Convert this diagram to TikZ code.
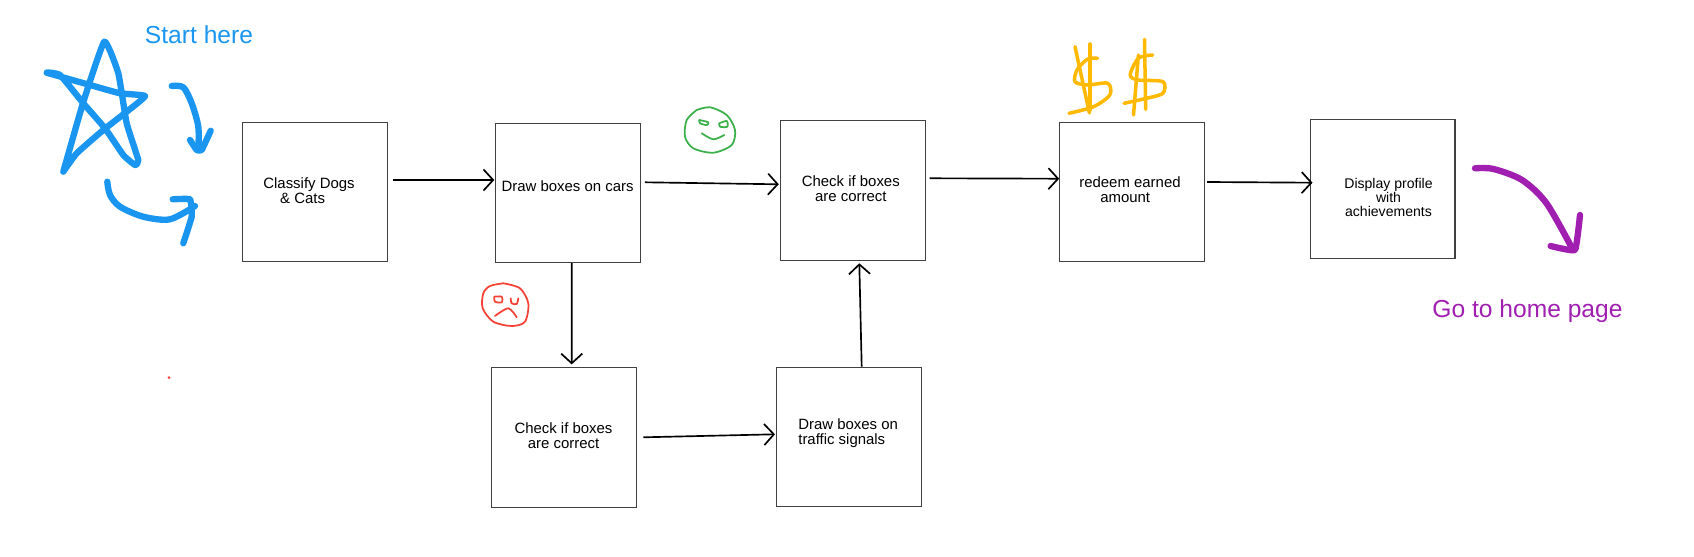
\documentclass[tikz,border=0pt]{standalone}
\usepackage{fontspec}
\setmainfont{Liberation Sans}
\usepackage{xcolor}
\usetikzlibrary{arrows.meta}

\definecolor{inkblue}{HTML}{1A96F0}
\definecolor{inkgreen}{HTML}{3CB04A}
\definecolor{inkred}{HTML}{F44336}
\definecolor{inkgold}{HTML}{FFB900}
\definecolor{inkpurple}{HTML}{A01FB0}

\tikzset{
  stepbox/.style={draw=black!75, line width=.6pt, minimum width=2.9cm, minimum height=2.79cm, inner sep=0pt},
  boxtext/.style={font=\fontsize{8.5}{8.5}\selectfont, inner sep=0pt, align=left},
  flow/.style={line width=.95pt, -{Straight Barb[length=5.5pt,width=12pt,line width=.95pt]}},
  pen/.style={line cap=round, line join=round, smooth, tension=.5},
  facepen/.style={pen, line width=1pt},
  bluepen/.style={pen, inkblue, line width=3.6pt},
  goldpen/.style={pen, inkgold, line width=2pt},
  purplepen/.style={pen, inkpurple, line width=3.6pt}
}

\begin{document}
\begin{tikzpicture}[x=.02cm,y=-.02cm]

\useasboundingbox (0,0) rectangle (1694,557);

\node[stepbox] (classify) at (315,192) {};
\node[stepbox] (cars) at (567.8,192.8) {};
\node[stepbox] (checktop) at (852.6,190.5) {};
\node[stepbox] (redeem) at (1131.8,191.8) {};
\node[stepbox] (profile) at (1382.5,189.2) {};
\node[stepbox] (checklow) at (564,437.7) {};
\node[stepbox] (traffic) at (848.8,437) {};

\node[boxtext, anchor=west] (classifytext) at (263,190.5) {Classify Dogs\\\hspace*{9.6pt}\& Cats};
\node[boxtext, anchor=west] (carstext) at (501.2,186) {Draw boxes on cars};
\node[boxtext, align=center] (checktoptext) at (850.8,189) {Check if boxes\\are correct};
\node[boxtext, anchor=west] (redeemtext) at (1079,190) {redeem earned\\\hspace*{11.9pt}amount};
\node[boxtext, align=center, font=\fontsize{8}{8}\selectfont] (profiletext) at (1388.5,197.5) {Display profile\\with\\achievements};
\node[boxtext, align=center] (checklowtext) at (563.5,435.2) {Check if boxes\\are correct};
\node[boxtext, anchor=west] (traffictext) at (798,433.5) {Draw boxes on\\traffic signals};

\draw[flow] ([shift={(5,-12)}]classify.east) -- ([shift={(-.5,-12.8)}]cars.west);
\draw[flow] ([shift={(4,-10.5)}]cars.east) -- ([shift={(-.8,-6.2)}]checktop.west);
\draw[flow] ([xshift=.08cm]cars.south) -- ([xshift=.154cm,yshift=.06cm]checklow.north);
\draw[flow] ([shift={(6.4,-.4)}]checklow.east) -- ([shift={(-.8,-2.7)}]traffic.west);
\draw[flow] ([xshift=.258cm]traffic.north) -- ([xshift=.134cm,yshift=-.05cm]checktop.south);
\draw[flow] ([shift={(4,-12.2)}]checktop.east) -- ([shift={(.4,-13.1)}]redeem.west);
\draw[flow] ([shift={(2.3,-9.8)}]redeem.east) -- ([shift={(3,-6.5)}]profile.west);

\node[font=\fontsize{14}{14}\selectfont, text=inkblue, inner sep=0pt] (starthere) at (199,34.5) {Start here};
\node[font=\fontsize{14}{14}\selectfont, text=inkpurple, inner sep=0pt] (gohome) at (1527.5,311) {Go to home page};

\draw[bluepen, tension=.25] plot coordinates {(63.3,171.7) (83,103) (104.3,41.7) (118.3,73.3) (126.7,123.3) (138.3,160) (135,165) (123.3,155) (105,128.3) (83.3,103.3) (60,75) (46.7,72.7) (90,85) (120,93.3) (145,96) (126.7,111.7) (103.3,130) (76.7,153.3) (63.3,171.7)};

\draw[bluepen] plot coordinates {(171.7,86) (183.3,87.3) (191.7,103.3) (198.3,126.7) (198.3,150)};
\draw[bluepen, tension=.2] plot coordinates {(190,140) (196.7,150) (201.7,150) (210.7,130.7)};
\draw[bluepen] plot coordinates {(107.3,181.7) (110,195) (120,206.7) (143.3,216.7) (170,219.3) (195,206)};
\draw[bluepen, tension=.2] plot coordinates {(172.7,199.3) (190,199.3) (191.7,216.7) (183.3,243.3)};

\draw[facepen, inkgreen] plot coordinates {(696.7,110) (710,107.3) (726.7,115) (735,130) (731.7,145) (713.3,152.7) (693.3,148.3) (685,136.7) (686.7,120) (696.7,110)};
\draw[facepen, inkgreen] plot coordinates {(699.3,120) (708.3,122.3) (706.7,125) (700,123.3) (699.3,120)};
\draw[facepen, inkgreen] plot coordinates {(719.3,123.3) (726.7,121) (727.3,126.7) (720,126.7) (719.3,123.3)};
\draw[facepen, inkgreen] plot coordinates {(701.7,133.3) (713.3,139.3) (724.3,135)};

\draw[facepen, inkred] plot coordinates {(503.3,283.3) (520,288.3) (528.3,303.3) (525,321.7) (511.7,326) (493.3,321.7) (482.7,308.3) (483.3,293.3) (490,286) (503.3,283.3)};
\draw[facepen, inkred] plot coordinates {(494.3,296.7) (501.7,296.7) (501.7,302.3) (495,301.7) (494.3,296.7)};
\draw[facepen, inkred] plot coordinates {(510.7,298.3) (511.7,303.3) (516.7,304) (518.3,298.3)};
\draw[facepen, inkred] plot coordinates {(495,316) (508.3,308.3) (516.7,317.3)};

\draw[goldpen] plot coordinates {(1097.6,58.3) (1087.3,59.3) (1077,70) (1075,81.7) (1087.3,85) (1107.8,83.3) (1109.8,95) (1093.5,106.7) (1069,113.3)};
\draw[goldpen] plot coordinates {(1075,46.7) (1089.4,113)};
\draw[goldpen] plot coordinates {(1090.2,44) (1090.2,110)};
\draw[goldpen] plot coordinates {(1152.7,55) (1138.4,58.3) (1130.2,75) (1138.4,80) (1162.9,81.7) (1162.9,93.3) (1146.5,98.3) (1124,103.3)};
\draw[goldpen] plot coordinates {(1144.5,39.3) (1145.7,109.3)};
\draw[goldpen] plot coordinates {(1138.4,55) (1133.5,115)};

\draw[purplepen] plot coordinates {(1475,168.3) (1493.5,169) (1522,180) (1546.5,203.3) (1573,250)};
\draw[purplepen, tension=.2] plot coordinates {(1550.6,246) (1575,250) (1580,215)};

\fill[inkred] (169,377.7) circle [radius=1.5];

\end{tikzpicture}
\end{document}
